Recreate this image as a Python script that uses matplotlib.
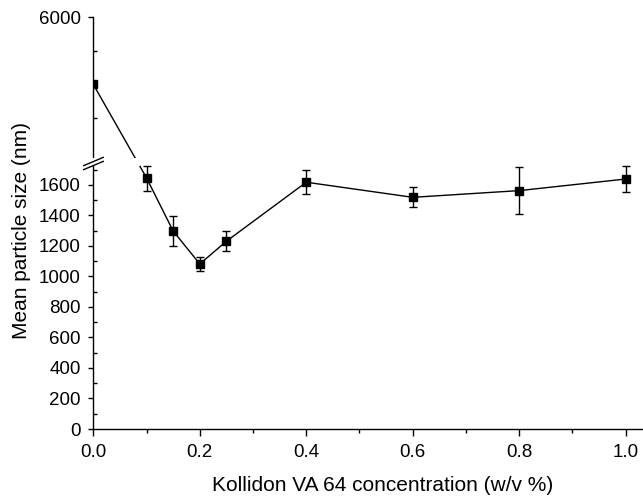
import numpy as np
import matplotlib

matplotlib.use("Agg")
import matplotlib.pyplot as plt

plt.rcParams["font.family"] = ["Liberation Sans", "DejaVu Sans"]

# Data (nm)
concentration = [0.0, 0.1, 0.15, 0.2, 0.25, 0.4, 0.6, 0.8, 1.0]
mean_size = [5000, 1646, 1298, 1082, 1231, 1618, 1519, 1563, 1639]
size_error = [0, 84, 101, 47, 66, 77, 65, 152, 86]

x_ticks = [0.0, 0.2, 0.4, 0.6, 0.8, 1.0]
x_minor = [0.1, 0.3, 0.5, 0.7, 0.9]
y_ticks = [0, 200, 400, 600, 800, 1000, 1200, 1400, 1600, 6000]
y_minor = [100, 300, 500, 700, 900, 1100, 1300, 1500, 1700, 4500, 5500]

# broken y axis: lower segment 0..1725, upper segment 3908..6000
LOWER_TOP = 1725
UPPER_BOTTOM = 3908
_V = np.array([0.0, LOWER_TOP, UPPER_BOTTOM, 6000.0])
_T = np.array([0.0, 263.1, 271.0, 412.0])


def _piecewise(values, src, dst):
    values = np.asarray(values, dtype=float)
    out = np.interp(values, src, dst)
    lo_slope = (dst[1] - dst[0]) / (src[1] - src[0])
    hi_slope = (dst[-1] - dst[-2]) / (src[-1] - src[-2])
    out = np.where(values < src[0], dst[0] + (values - src[0]) * lo_slope, out)
    out = np.where(values > src[-1], dst[-1] + (values - src[-1]) * hi_slope, out)
    return out


def forward(v):
    return _piecewise(v, _V, _T)


def inverse(t):
    return _piecewise(t, _T, _V)


fig = plt.figure(figsize=(6.43, 4.96), dpi=100)
ax = fig.add_axes([93.3 / 643, 67 / 496, (643 - 93.3) / 643, 412 / 496])
ax.set_yscale("function", functions=(forward, inverse))

ax.plot(concentration, mean_size, color="black", linewidth=1.0, zorder=2)
ax.errorbar(
    concentration[1:], mean_size[1:], yerr=size_error[1:],
    fmt="none", ecolor="black", elinewidth=1.0, capsize=3.2, capthick=1.0, zorder=2,
)
ax.plot(concentration, mean_size, linestyle="none", marker="s", markersize=5.8,
        color="black", zorder=4)

ax.set_xlim(0, 1.0325)
ax.set_ylim(0, 6000)

# hide the spine and the line inside the break, then draw the break marks
ax.axhspan(LOWER_TOP, UPPER_BOTTOM, xmin=-0.03, xmax=0.085, color="white",
           zorder=3, clip_on=False, linewidth=0)
gap_marks = inverse([264.0, 268.5])
ax.plot([0, 0], gap_marks, linestyle="none", color="black",
        marker=[(-1, -0.42), (1, 0.42)], markersize=15, markeredgewidth=1.0,
        clip_on=False, zorder=5)

ax.set_xticks(x_ticks)
ax.set_xticklabels([f"{t:.1f}" for t in x_ticks])
ax.set_xticks(x_minor, minor=True)
ax.set_yticks(y_ticks)
ax.set_yticklabels([str(t) for t in y_ticks])
ax.set_yticks(y_minor, minor=True)

ax.tick_params(axis="x", which="major", direction="out", length=4.8, width=1.0,
               pad=6, labelsize=13.5)
ax.tick_params(axis="x", which="minor", direction="out", length=2.9, width=1.0)
ax.tick_params(axis="y", which="major", direction="out", length=3.6, width=1.0,
               pad=5.5, labelsize=13.5)
ax.tick_params(axis="y", which="minor", direction="in", length=2.6, width=1.0)

for side in ("top", "right"):
    ax.spines[side].set_visible(False)
for side in ("left", "bottom"):
    ax.spines[side].set_linewidth(1.0)

ax.set_xlabel("Kollidon VA 64 concentration (w/v %)", fontsize=15)
ax.xaxis.label.set_va("center")
ax.xaxis.set_label_coords(0.527, -0.136)
ax.set_ylabel("Mean particle size (nm)", fontsize=15)
ax.yaxis.label.set_va("center")
ax.yaxis.set_label_coords(-0.13, 0.483)

fig.savefig("out.png", dpi=100)
